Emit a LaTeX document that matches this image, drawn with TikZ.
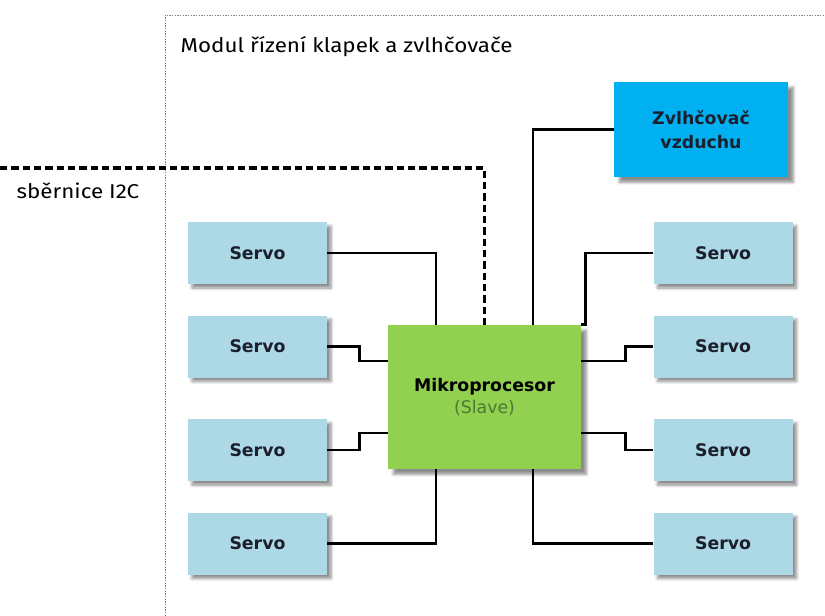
\documentclass[tikz,border=0pt]{standalone}
\usepackage{fontspec}
\setmainfont{DejaVu Sans}
\newfontfamily\titlefont[FakeStretch=1.12]{Fira Sans}
\usetikzlibrary{positioning,calc,shadows.blur}
\definecolor{servoblue}{HTML}{ADD8E6}
\definecolor{mcugreen}{HTML}{92D050}
\definecolor{humblue}{HTML}{00B0F0}
\definecolor{slavetext}{HTML}{4A7A34}
\definecolor{boxtext}{HTML}{1C1E2C}
\tikzset{
servo/.style={fill=servoblue,minimum width=104.25pt,minimum height=46.5pt,align=center,font=\bfseries\fontsize{13}{15}\selectfont,text=boxtext,blur shadow={shadow xshift=3pt,shadow yshift=-3pt,shadow blur steps=6,shadow opacity=45}},
mcu/.style={fill=mcugreen,minimum width=144.75pt,minimum height=108pt,align=center,font=\fontsize{13}{17}\selectfont,blur shadow={shadow xshift=4pt,shadow yshift=-4pt,shadow blur steps=6,shadow opacity=45}},
humidifier/.style={fill=humblue,minimum width=130.5pt,minimum height=71.25pt,align=center,font=\bfseries\fontsize{13}{18}\selectfont,text=boxtext,blur shadow={shadow xshift=4pt,shadow yshift=-4pt,shadow blur steps=6,shadow opacity=45}},
wire/.style={line width=2pt},
bus/.style={line width=2.4pt,dash pattern=on 5.5pt off 3pt},
frame/.style={gray,line width=.4pt,dash pattern=on 1pt off 1pt},
label/.style={font=\titlefont\fontsize{15}{17}\selectfont,anchor=west}
}
\begin{document}
\begin{tikzpicture}[x=.75pt,y=-.75pt]
\useasboundingbox (0,0) rectangle (825,616);
\draw[frame](165,616)--(165,15)--(825,15);
\node[label](title) at (176,47){Modul řízení klapek a zvlhčovače};
\node[label](buslabel) at (12,191){sběrnice I2C};
\node[mcu](mcu) at (484.5,397){\textbf{Mikroprocesor}\\\textcolor{slavetext}{(Slave)}};
\node[humidifier](hum) at (701,129.5){Zvlhčovač\\vzduchu};
\node[servo](l1) at (257.5,253){Servo};
\node[servo,below=23.25pt of l1](l2){Servo};
\node[servo,below=30.75pt of l2](l3){Servo};
\node[servo,below=23.25pt of l3](l4){Servo};
\node[servo,right=244.5pt of l1](r1){Servo};
\node[servo,right=244.5pt of l2](r2){Servo};
\node[servo,right=244.5pt of l3](r3){Servo};
\node[servo,right=244.5pt of l4](r4){Servo};
\coordinate (busend) at (0,168);
% I2C bus
\draw[bus](busend)-|(mcu.north);
% humidifier
\draw[wire](hum.west)-|($(mcu.north west)!.75!(mcu.north east)$);
% left servos
\draw[wire](l1.east)-|($(mcu.north west)!.25!(mcu.north east)$);
\draw[wire](l2.east)--++(32,0)|-($(mcu.north west)!.25!(mcu.south west)$);
\draw[wire](l3.east)--++(32,0)|-($(mcu.north west)!.75!(mcu.south west)$);
\draw[wire](l4.east)-|($(mcu.south west)!.25!(mcu.south east)$);
% right servos
\draw[wire](r1.west)-|([xshift=3pt]mcu.north east)--(mcu.north east);
\draw[wire](r2.west)--++(-28,0)|-($(mcu.north east)!.25!(mcu.south east)$);
\draw[wire](r3.west)--++(-28,0)|-($(mcu.north east)!.75!(mcu.south east)$);
\draw[wire](r4.west)-|($(mcu.south west)!.75!(mcu.south east)$);
\end{tikzpicture}
\end{document}
